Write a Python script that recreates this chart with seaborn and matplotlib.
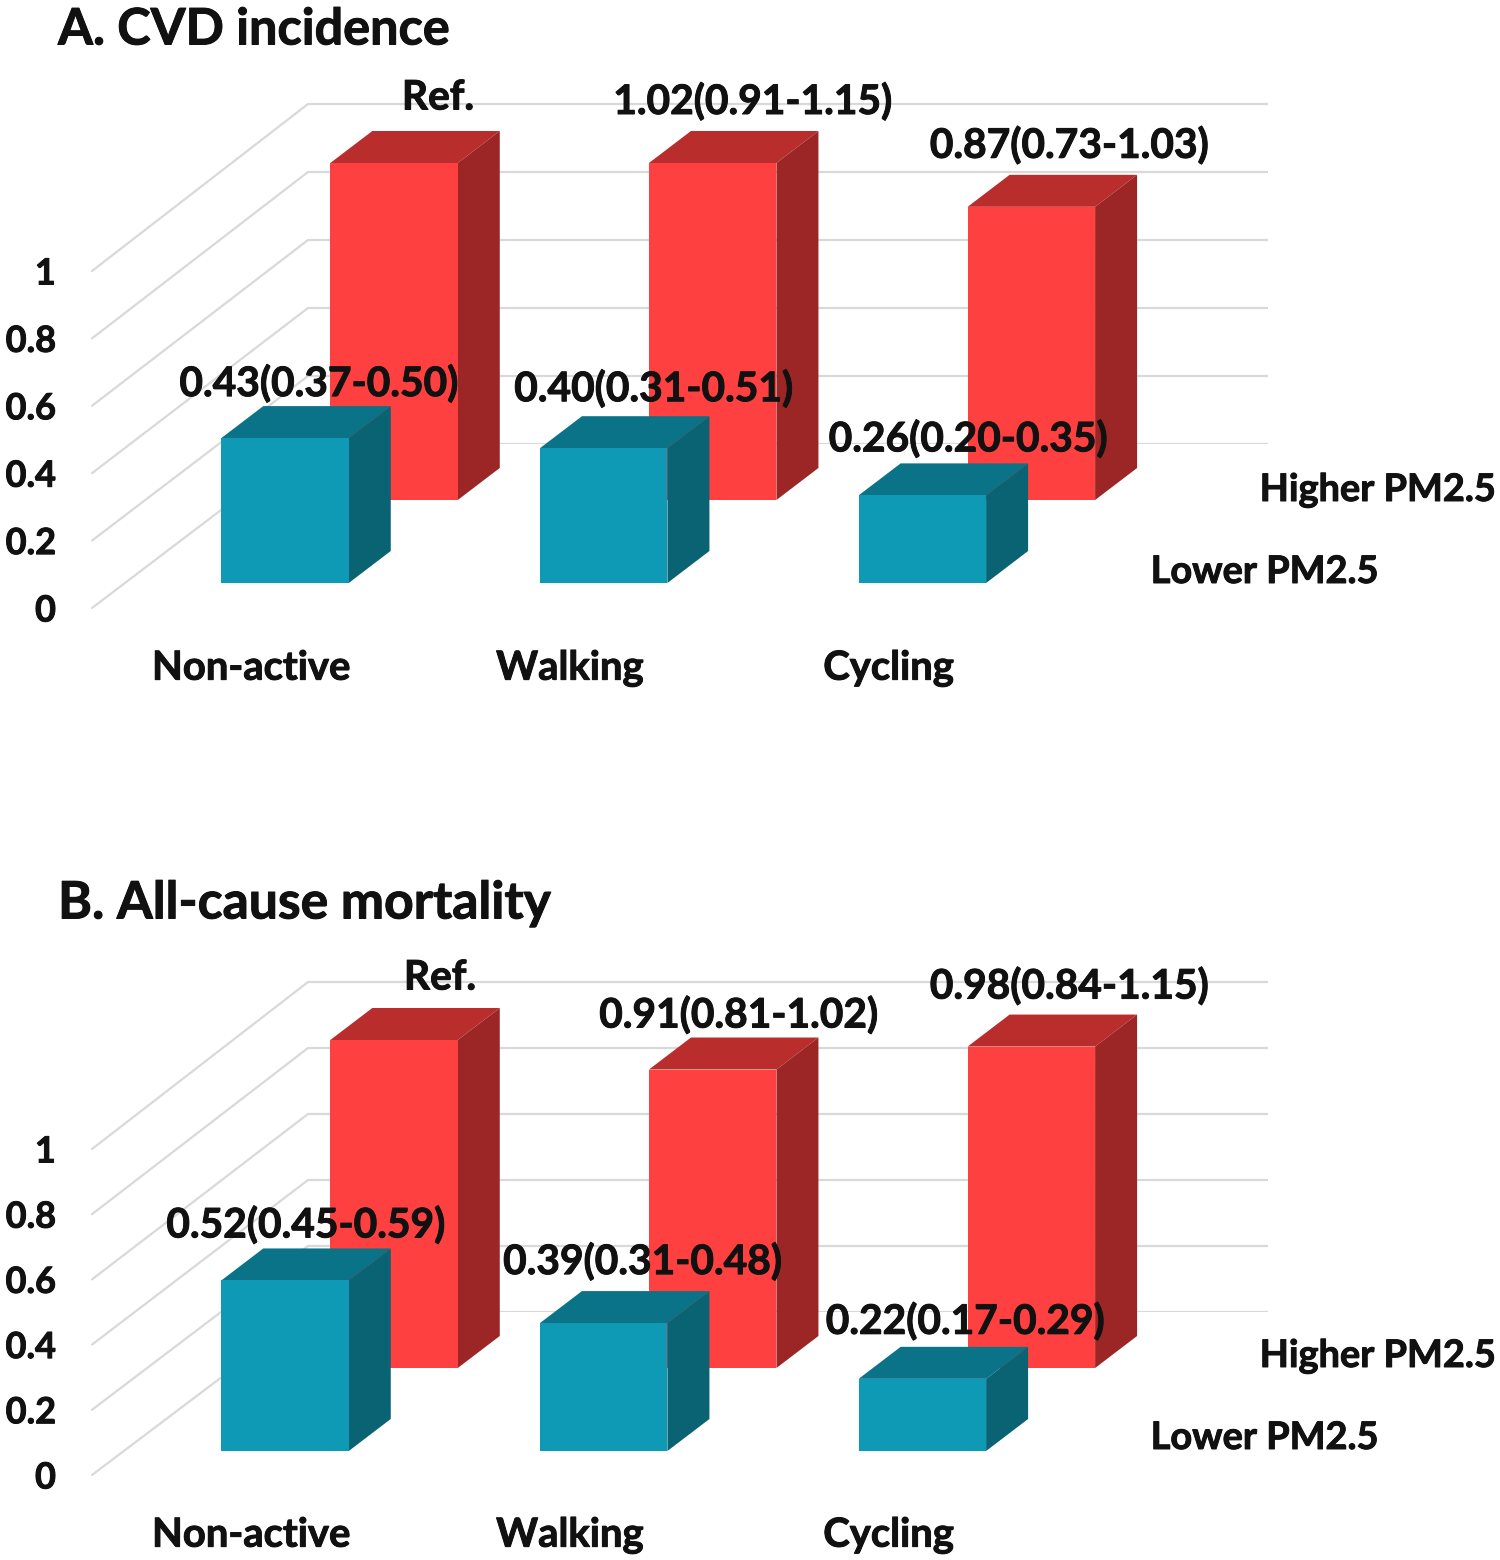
import matplotlib
matplotlib.use("Agg")
import matplotlib.pyplot as plt
from matplotlib.patches import ConnectionPatch
from matplotlib.patheffects import withStroke
import seaborn as sns

CATEGORIES = ["Non-active", "Walking", "Cycling"]
TICKS = [0, 0.2, 0.4, 0.6, 0.8, 1]
TICK_LABELS = ["0", "0.2", "0.4", "0.6", "0.8", "1"]

A_TITLE = "A. CVD incidence"
A_HIGHER = [1.00, 1.00, 0.87]
A_LOWER = [0.43, 0.40, 0.26]
A_HIGHER_LABELS = ["Ref.", "1.02(0.91-1.15)", "0.87(0.73-1.03)"]
A_LOWER_LABELS = ["0.43(0.37-0.50)", "0.40(0.31-0.51)", "0.26(0.20-0.35)"]

B_TITLE = "B. All-cause mortality"
B_HIGHER = [1.00, 0.91, 0.98]
B_LOWER = [0.52, 0.39, 0.22]
B_HIGHER_LABELS = ["Ref.", "0.91(0.81-1.02)", "0.98(0.84-1.15)"]
B_LOWER_LABELS = ["0.52(0.45-0.59)", "0.39(0.31-0.48)", "0.22(0.17-0.29)"]

W, H = 1500, 1560
BAR_W = 0.4
DEPTH_X, DEPTH_Y = 42, 32
TEXT_COL = "#111111"
GRID_COL = "#D9D9D9"
LABEL_FS = 29.3
SERIES_FS = 27.3
AXIS_FS = 28.8
TICK_FS = 26
BOLDER = [withStroke(linewidth=0.7, foreground=TEXT_COL)]

sns.set_theme(style="white")
plt.rcParams["font.family"] = ["Lato", "DejaVu Sans"]
plt.rcParams["font.weight"] = "bold"

fig = plt.figure(figsize=(W / 100, H / 100), dpi=100, facecolor="white")


def plane(left, zero_y, width, scale, z):
    """Axes of one depth plane, placed in pixels; y runs from 0 to 1.2."""
    ax = fig.add_axes([left / W, 1 - zero_y / H, width / W, 1.2 * scale / H], zorder=z)
    ax.patch.set_alpha(0)
    return ax


def finish(ax):
    ax.set_xlim(-0.5, 2.5)
    ax.set_ylim(0, 1.2)
    ax.set_axis_off()


def bars(ax, values, labels, offsets, front, top, side, width, scale, series, series_off, z):
    sns.barplot(x=CATEGORIES, y=values, color=front, saturation=1, width=BAR_W,
                ax=ax, linewidth=0, zorder=z)
    finish(ax)
    dx = DEPTH_X / (width / 3)
    dy = DEPTH_Y / scale
    for p, lab, off in zip(ax.patches, labels, offsets):
        x0, x1 = p.get_x(), p.get_x() + p.get_width()
        h = p.get_height()
        ax.fill([x0, x1, x1 + dx, x0 + dx], [h, h, h + dy, h + dy], color=top, lw=0, clip_on=False)
        ax.fill([x1, x1 + dx, x1 + dx, x1], [0, dy, h + dy, h], color=side, lw=0, clip_on=False)
        ax.annotate(lab, ((x0 + x1) / 2, h), xytext=off, textcoords="offset pixels",
                    ha="center", va="center", fontsize=LABEL_FS, color=TEXT_COL,
                    annotation_clip=False, path_effects=BOLDER)
    ax.annotate(series, (2.5, 0), xytext=series_off, textcoords="offset pixels",
                ha="left", va="center", fontsize=SERIES_FS, color=TEXT_COL,
                annotation_clip=False, path_effects=BOLDER)


def panel(title, title_y, title_fs, higher, lower, hi_labels, lo_labels, hi_off, lo_off,
          base_y, back_y, back_scale, hi_y, lo_y, scale, base_scale, label_pad, series_dy):
    base_w = 956
    base = plane(92, base_y, base_w, base_scale, 1)
    base.set_xlim(-0.5, 2.5)
    base.set_ylim(0, 1.2)
    base.set_xticks(range(3), CATEGORIES, fontsize=AXIS_FS, color=TEXT_COL)
    base.set_yticks(TICKS, TICK_LABELS, fontsize=TICK_FS, color=TEXT_COL)
    base.tick_params(axis="y", length=0, pad=26)
    base.tick_params(axis="x", length=0, pad=label_pad)
    for t in base.get_xticklabels() + base.get_yticklabels():
        t.set_path_effects(BOLDER)
    sns.despine(ax=base, left=True, bottom=True)

    back = plane(308, back_y, 960, back_scale, 2)
    finish(back)
    for v in TICKS:
        back.hlines(v, -0.5, 2.5, color=GRID_COL, lw=1.6)
        fig.add_artist(ConnectionPatch((-0.5, v), (-0.5, v), "data", "data",
                                       axesA=base, axesB=back, color=GRID_COL, lw=1.6, zorder=1.5))

    red = plane(234.7, hi_y, 956, scale, 3)
    bars(red, higher, hi_labels, hi_off, "#FF4040", "#B92D2D", "#9C2626", 956, scale,
         "Higher PM2.5", (69, series_dy), 3)
    blue = plane(125.7, lo_y, 956, scale, 4)
    bars(blue, lower, lo_labels, lo_off, "#0E9AB4", "#0B7388", "#0A6373", 956, scale,
         "Lower PM2.5", (69, series_dy + 1), 4)
    fig.text(58 / W, 1 - title_y / H, title, fontsize=title_fs, color=TEXT_COL,
             va="center", ha="left", path_effects=BOLDER)


panel(A_TITLE, 30, 36.3, A_HIGHER, A_LOWER, A_HIGHER_LABELS, A_LOWER_LABELS,
      [(44, 65), (40, 61), (38, 61)], [(34, 54), (50, 59), (46, 56)],
      608, 444, 340, 500, 583, 337, 337, 30, 10)
panel(B_TITLE, 904, 37.2, B_HIGHER, B_LOWER, B_HIGHER_LABELS, B_LOWER_LABELS,
      [(46, 62), (26, 54), (38, 60)], [(21, 55), (39, 61), (43, 57)],
      1475, 1312, 330, 1368, 1451, 328, 326, 30, 12)

fig.savefig("out.png", dpi=100)
